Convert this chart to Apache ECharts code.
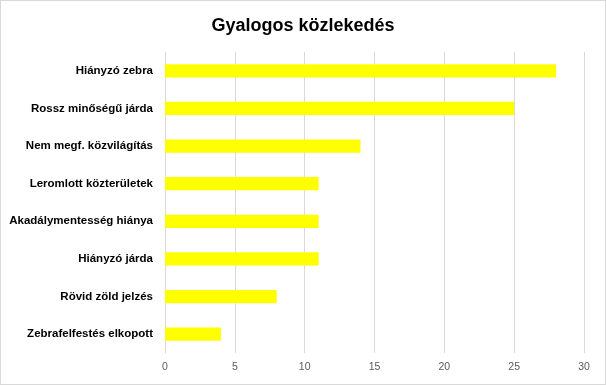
<!DOCTYPE html>
<html>
<head>
<meta charset="utf-8">
<script src="https://cdn.jsdelivr.net/npm/echarts@6/dist/echarts.min.js"></script>
<style>
html,body{margin:0;padding:0;background:#fff;}
#c{width:606px;height:385px;box-sizing:border-box;border:1px solid #d9d9d9;}
</style>
</head>
<body>
<div id="c"></div>
<script>
var categories = ["Hiányzó zebra","Rossz minőségű járda","Nem megf. közvilágítás","Leromlott közterületek","Akadálymentesség hiánya","Hiányzó járda","Rövid zöld jelzés","Zebrafelfestés elkopott"];
var values = [28,25,14,11,11,11,8,4];
var xTicks = [0,5,10,15,20,25,30];

var chart = echarts.init(document.getElementById('c'), null, {renderer:'canvas'});
chart.setOption({
  animation:false,
  title:{text:'Gyalogos közlekedés',left:'center',top:11,
    textStyle:{fontFamily:'Liberation Sans',fontWeight:'bold',fontSize:18,color:'#000'}},
  grid:{left:164,right:21,top:51,bottom:31,containLabel:false},
  xAxis:{type:'value',min:xTicks[0],max:xTicks[xTicks.length-1],interval:5,
    axisLine:{show:false},axisTick:{show:false},
    splitLine:{show:true,lineStyle:{color:'#d9d9d9',width:1}},
    axisLabel:{color:'#595959',fontFamily:'Liberation Sans',fontSize:10.5,margin:9}},
  yAxis:{type:'category',data:categories,inverse:true,
    axisLine:{show:true,lineStyle:{color:'#d9d9d9'}},axisTick:{show:false},
    axisLabel:{color:'#000',fontFamily:'Liberation Sans',fontWeight:'bold',fontSize:11.5,margin:12}},
  series:[{type:'bar',data:values,barWidth:'35%',itemStyle:{color:'#ffff00'}}]
});
</script>
</body>
</html>
